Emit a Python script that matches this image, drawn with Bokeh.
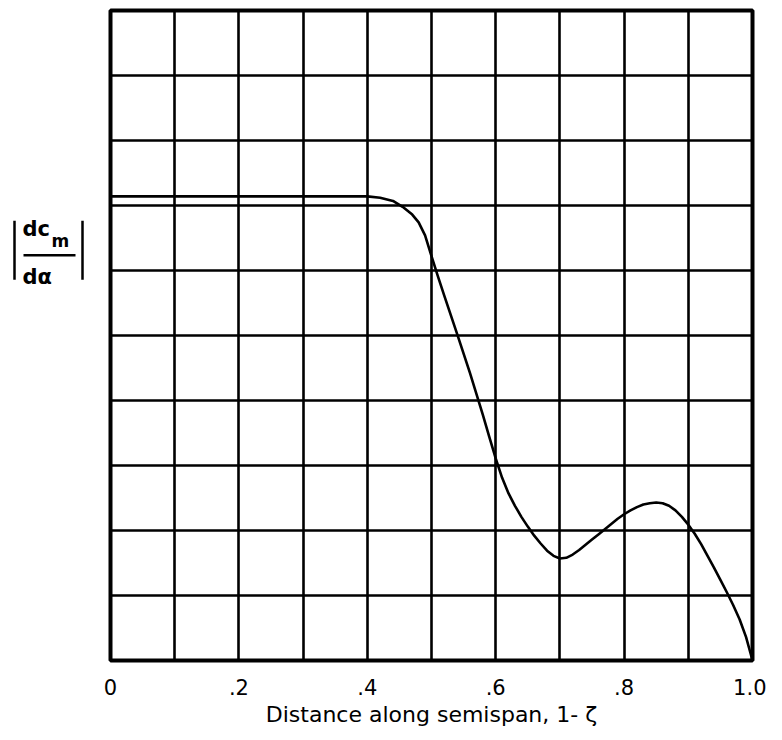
from bokeh.plotting import figure
from bokeh.models import Range1d, FixedTicker
from bokeh.layouts import row
from bokeh.core.properties import value
from bokeh.embed import file_html
from bokeh.resources import INLINE

# data
span_x = [0.0, 0.40, 0.42, 0.44, 0.455, 0.47, 0.48, 0.49, 0.50, 0.51, 0.52, 0.54,
          0.56, 0.58, 0.59, 0.60, 0.61, 0.62, 0.63, 0.64, 0.65, 0.66, 0.67, 0.68, 0.69,
          0.70, 0.71, 0.72, 0.73, 0.74, 0.75, 0.76, 0.77, 0.78, 0.79, 0.80, 0.81,
          0.82, 0.83, 0.84, 0.85, 0.86, 0.87, 0.88, 0.89, 0.90, 0.91, 0.92, 0.93,
          0.94, 0.95, 0.96, 0.97, 0.98, 0.99, 1.00]
dcm_da = [7.14, 7.14, 7.12, 7.07, 6.98, 6.86, 6.74, 6.54, 6.22, 5.91, 5.61, 5.02,
          4.42, 3.78, 3.44, 3.11, 2.81, 2.57, 2.38, 2.21, 2.06, 1.92, 1.80, 1.69, 1.61,
          1.57, 1.58, 1.63, 1.70, 1.78, 1.86, 1.94, 2.02, 2.10, 2.18, 2.25, 2.31,
          2.36, 2.40, 2.42, 2.43, 2.42, 2.38, 2.31, 2.21, 2.09, 1.95, 1.79, 1.61,
          1.43, 1.24, 1.05, 0.85, 0.63, 0.36, 0.0]
tick_values = [0, 0.2, 0.4, 0.6, 0.8, 1.0]
tick_labels = ["0", ".2", ".4", ".6", ".8", "1.0"]
xgrid_values = [i / 10 for i in range(11)]
ygrid_values = list(range(11))

FONT = "DejaVu Sans"
H = 736

p = figure(width=666, height=H, output_backend="svg", toolbar_location=None,
           x_range=Range1d(0, 1), y_range=Range1d(0, 10),
           min_border_left=10, min_border_right=14, min_border_top=10,
           min_border_bottom=76)

p.outline_line_color = "black"
p.outline_line_width = 4
p.outline_line_alpha = 1

p.xgrid.ticker = FixedTicker(ticks=xgrid_values)
p.ygrid.ticker = FixedTicker(ticks=ygrid_values)
for g in (p.xgrid, p.ygrid):
    g.grid_line_color = "black"
    g.grid_line_width = 2.6
    g.grid_line_alpha = 1

p.yaxis.visible = False
ax = p.xaxis[0]
ax.ticker = FixedTicker(ticks=tick_values)
ax.major_label_overrides = {v: s for v, s in zip(tick_values, tick_labels)}
ax.axis_line_color = None
ax.major_tick_line_color = None
ax.minor_tick_line_color = None
ax.major_label_standoff = 12
ax.major_label_text_font = FONT
ax.major_label_text_font_size = "21px"
ax.major_label_text_color = "black"
ax.axis_label = "Distance along semispan, 1- ζ"
ax.axis_label_text_font = FONT
ax.axis_label_text_font_size = "22px"
ax.axis_label_text_font_style = "normal"
ax.axis_label_text_color = "black"
ax.axis_label_standoff = 4

p.line(span_x, dcm_da, line_color="black", line_width=2.6, line_join="round")

# left panel holding the y-axis label |dc_m / dα| (pixel coordinates)
lp = figure(width=100, height=H, output_backend="svg", toolbar_location=None,
            x_range=Range1d(0, 100), y_range=Range1d(H, 0),
            min_border=0, outline_line_color=None)
lp.axis.visible = False
lp.grid.visible = False

lp.text(x=[22], y=[261], text=["dc"], text_font=value(FONT), text_font_size="21px",
        text_font_style="bold", text_baseline="bottom", text_color="black")
lp.text(x=[51], y=[261], text=["m"], text_font=value(FONT), text_font_size="17px",
        text_font_style="bold", text_baseline="middle", text_color="black")
lp.text(x=[22], y=[288], text=["dα"], text_font=value(FONT), text_font_size="21px",
        text_font_style="bold", text_baseline="top", text_color="black")
lp.segment(x0=[23, 14, 82], y0=[277, 238, 238], x1=[75, 14, 82], y1=[277, 305, 305],
           line_color="black", line_width=2.5)

layout = row(lp, p, spacing=0)
open("out.html", "w").write(file_html(layout, INLINE))
